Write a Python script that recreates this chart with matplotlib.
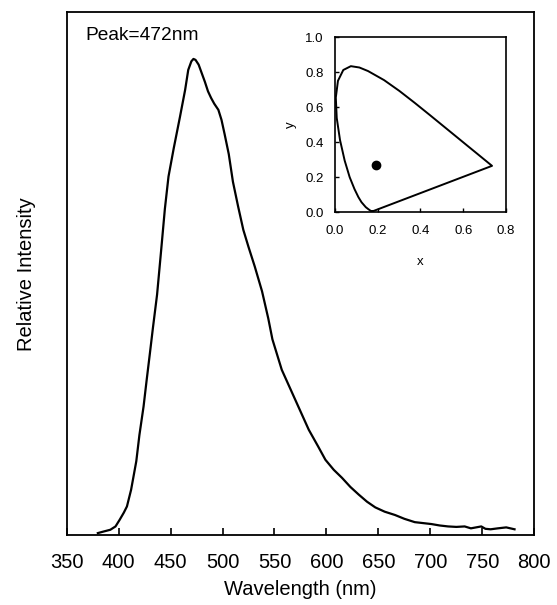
import numpy as np
from matplotlib import pyplot as plt

plt.rcParams['font.family'] = ['Liberation Sans', 'DejaVu Sans']

# emission spectrum (peak normalised to 1)
wavelength = [380, 385, 392, 397, 401, 405, 408, 412, 417, 420, 424, 427,
              430, 433, 437, 441, 444.5, 448, 453, 459, 464, 467, 470, 472,
              474, 477, 480, 483, 486, 489, 492, 496, 499, 502, 506, 510,
              515, 520, 525, 531, 538, 544, 548, 557, 570, 583, 592, 599,
              607, 615, 623, 631, 639, 647, 656, 666, 675, 685, 693, 701,
              709, 717, 725, 733, 739, 744, 749, 753, 758, 765, 773, 781]
intensity = [0.004, 0.007, 0.011, 0.018, 0.032, 0.047, 0.060, 0.095, 0.155,
             0.210, 0.270, 0.326, 0.380, 0.435, 0.505, 0.600, 0.685, 0.753,
             0.812, 0.878, 0.935, 0.977, 0.995, 1.000, 0.998, 0.988, 0.970,
             0.952, 0.932, 0.918, 0.906, 0.893, 0.872, 0.842, 0.800, 0.742,
             0.690, 0.641, 0.605, 0.564, 0.512, 0.455, 0.411, 0.347, 0.284,
             0.221, 0.186, 0.158, 0.137, 0.120, 0.101, 0.085, 0.070, 0.058,
             0.049, 0.042, 0.034, 0.027, 0.025, 0.023, 0.020, 0.018, 0.017,
             0.018, 0.014, 0.016, 0.018, 0.013, 0.012, 0.014, 0.016, 0.012]
peak_label = 'Peak=472nm'

# CIE 1931 spectral locus (380 nm -> 700 nm)
locus_x = [0.1741, 0.1714, 0.1644, 0.1566, 0.1440, 0.1241, 0.1096, 0.0913,
           0.0687, 0.0454, 0.0235, 0.0082, 0.0039, 0.0139, 0.0389, 0.0743,
           0.1142, 0.1547, 0.2296, 0.3016, 0.3731, 0.4441, 0.5125, 0.5752,
           0.6270, 0.6658, 0.6915, 0.7079, 0.7190, 0.7260, 0.7300, 0.7334,
           0.7347]
locus_y = [0.0050, 0.0051, 0.0109, 0.0177, 0.0297, 0.0578, 0.0868, 0.1327,
           0.2007, 0.2950, 0.4127, 0.5384, 0.6548, 0.7502, 0.8120, 0.8338,
           0.8262, 0.8059, 0.7543, 0.6923, 0.6245, 0.5547, 0.4866, 0.4242,
           0.3725, 0.3340, 0.3083, 0.2920, 0.2809, 0.2740, 0.2700, 0.2666,
           0.2653]
cie_point = (0.19, 0.27)

xticks = [350, 400, 450, 500, 550, 600, 650, 700, 750, 800]


fig = plt.figure(figsize=(5.57, 6.05), dpi=100)

ax = fig.add_axes([0.1197, 0.1157, 0.8395, 0.864])
ax.plot(wavelength, intensity, color='k', lw=1.6)
ax.set_xlim(350, 800)
ax.set_ylim(0, 1.098)
ax.set_xticks(xticks)
ax.set_yticks([])
ax.tick_params(axis='x', direction='in', length=5, width=1.2, pad=13,
               labelsize=14.5, top=False)
for s in ax.spines.values():
    s.set_linewidth(1.3)
ax.set_xlabel('Wavelength (nm)', fontsize=14.5)
ax.xaxis.set_label_coords(0.5, -0.086)
ax.set_ylabel('Relative Intensity', fontsize=14.5)
ax.yaxis.set_label_coords(-0.066, 0.5)
ax.text(0.039, 0.955, peak_label, transform=ax.transAxes, fontsize=13.8,
        ha='left', va='center')

# chromaticity inset
axi = fig.add_axes([0.6014, 0.649, 0.307, 0.2898])
lx = locus_x + [locus_x[0]]
ly = locus_y + [locus_y[0]]
axi.plot(lx, ly, color='k', lw=1.4)
axi.plot(*cie_point, 'o', color='k', ms=6)
axi.set_xlim(0, 0.8)
axi.set_ylim(0, 1.0)
axi.set_xticks(np.arange(0, 0.81, 0.2))
axi.set_yticks(np.arange(0, 1.01, 0.2))
axi.xaxis.set_major_formatter(plt.FormatStrFormatter('%.1f'))
axi.yaxis.set_major_formatter(plt.FormatStrFormatter('%.1f'))
axi.tick_params(direction='in', length=3, width=1, labelsize=9.5)
axi.tick_params(axis='x', pad=9)
axi.tick_params(axis='y', pad=8)
for s in axi.spines.values():
    s.set_linewidth(1.2)
axi.set_xlabel('x', fontsize=9.5)
axi.xaxis.set_label_coords(0.5, -0.25)
axi.set_ylabel('y', fontsize=9.5)
axi.yaxis.set_label_coords(-0.222, 0.5)

fig.savefig('out.png', dpi=100)
